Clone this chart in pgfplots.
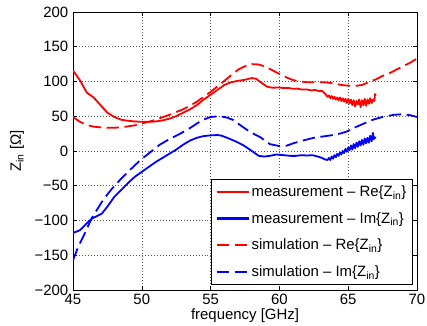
\documentclass[border=0pt]{standalone}
\usepackage{pgfplots}
\pgfplotsset{compat=1.18}
\usepackage{fontspec}
\setmainfont{Liberation Sans}
\begin{document}
\fontsize{15}{18}\selectfont
\begin{tikzpicture}
\begin{axis}[
  scale only axis, width=344bp, height=278bp,
  xmin=45, xmax=70, ymin=-200, ymax=200,
  xtick={45,50,...,70}, ytick={-200,-150,...,200},
  yticklabels={−200,−150,−100,−50,0,50,100,150,200},
  xticklabels={45,50,55,60,65,70},
  tick pos=both, tick align=inside, major tick length=4bp,
  every tick/.style={black, line width=0.6pt},
  axis line style={black, line width=0.8pt},
  grid=major,
  major grid style={black!65, line width=0.6pt, dash pattern=on 0.8pt off 2.2pt},
  xticklabel style={anchor=north, inner sep=0pt, yshift=-4bp},
  yticklabel style={anchor=east, inner sep=0pt, xshift=-4.5bp},
  xlabel={frequency [GHz]},
  ylabel={Z\textsubscript{in} [Ω]},
  xlabel style={at={(axis description cs:0.5,0)}, anchor=center, yshift=-25.5bp},
  ylabel style={at={([xshift=-56bp]axis description cs:0,0.5)}, anchor=center},
  legend style={at={(0.988,0.018)}, anchor=south east, draw=black, line width=0.8pt,
    fill=white, font=\fontsize{15}{18}\selectfont, inner xsep=4bp, inner ysep=4bp,
    row sep=9.5bp, cells={anchor=west}},
  legend image code/.code={\draw[#1, line width=2.2pt, yshift=0.4bp] (0bp,0bp) -- (32bp,0bp);},
  clip=true,
]
\coordinate (ll) at (rel axis cs:0,0);
\coordinate (ur) at (rel axis cs:1,1);
% measurement Re
\addplot[red, line width=1.8pt, line join=round] coordinates {
(45,116) (45.5,102) (46,84) (46.5,77) (47,66) (47.5,55) (48,49) (48.5,45) (49,43.5) (49.5,42.5)
(50,42) (50.5,42) (51,42.5) (51.5,44) (52,46.5) (52.5,50) (53,55) (53.5,60) (54,66) (54.5,74)
(55,81) (55.5,88) (56,95) (56.5,99) (57,101) (57.5,102.5) (58,105) (58.3,104) (58.7,98) (59.1,92.5)
(59.5,91) (60,91.5) (60.3,90.5) (60.6,90.8) (61,89.5) (61.3,89.8) (61.6,88.5) (62,88.6) (62.3,87.2) (62.6,87.8)
(62.9,86) (63.1,86.5) (63.3,83) (63.5,78)
(63.6,80) (63.7,76) (63.8,79) (63.9,75) (64.0,78) (64.1,74) (64.2,77) (64.3,73) (64.4,77) (64.5,72)
(64.6,76) (64.7,71) (64.8,75) (64.9,69) (65.0,75) (65.1,68) (65.2,74) (65.3,66) (65.4,73) (65.5,64)
(65.6,72) (65.7,67) (65.8,74) (65.9,63) (66.0,73) (66.1,66) (66.2,75) (66.3,65) (66.4,74) (66.5,68)
(66.6,76) (66.7,69) (66.8,74) (66.9,72) (66.95,82) (67.0,80)
};
\addlegendentry{measurement -- Re\{Z\textsubscript{in}\}}
% measurement Im
\addplot[blue, line width=1.8pt, line join=round] coordinates {
(45,-118) (45.5,-114) (46,-104) (46.4,-97) (46.8,-93) (47.1,-90) (47.5,-80) (48,-66) (48.5,-56) (49,-46)
(49.5,-37) (50,-30) (50.5,-23) (51,-16) (51.5,-10) (52,-4) (52.5,2) (53,9) (53.5,15) (54,19)
(54.5,21.5) (55,22.5) (55.5,23) (55.8,22) (56.2,19) (56.8,14) (57.4,8) (58,0) (58.5,-7) (58.9,-8)
(59.3,-7) (59.8,-5) (60.3,-6) (60.8,-7) (61.2,-7) (61.6,-6) (62,-6.5) (62.4,-6) (62.8,-8) (63.1,-10)
(63.3,-12) (63.5,-13)
(63.6,-10) (63.7,-13) (63.8,-8) (63.9,-11) (64.0,-6) (64.1,-9) (64.2,-4) (64.3,-7) (64.4,-2) (64.5,-5)
(64.6,0) (64.7,-3) (64.8,3) (64.9,-1) (65.0,5) (65.1,1) (65.2,8) (65.3,2) (65.4,10) (65.5,4)
(65.6,12) (65.7,6) (65.8,14) (65.9,8) (66.0,16) (66.1,9) (66.2,18) (66.3,11) (66.4,19) (66.5,12)
(66.6,22) (66.7,14) (66.8,26) (66.85,17) (66.9,20) (67.0,18)
};
\addlegendentry{measurement -- Im\{Z\textsubscript{in}\}}
% simulation Re
\addplot[red, line width=1.8pt, dash pattern=on 12.5bp off 5.5bp] coordinates {
(45,49) (45.5,42) (46,37.5) (46.5,35) (47,34) (47.5,33.5) (48,33.5) (48.5,34) (49,35.5) (49.5,37)
(50,39.5) (50.5,42) (51,45) (51.5,48.5) (52,52) (52.5,56) (53,60) (53.5,65) (54,71) (54.5,78)
(55,85) (55.5,93) (56,101) (56.5,109) (57,117) (57.5,122) (58,125) (58.5,124.5) (59,121) (59.5,116)
(60,111) (60.5,106) (61,102) (61.5,100) (62,99) (63,99) (63.5,98.5) (64,97) (64.5,95) (65,94)
(65.5,93.5) (66,95) (66.5,99) (67,103) (67.5,108) (68,112) (68.5,117) (69,122) (69.5,127) (70,133)
};
\addlegendentry{simulation -- Re\{Z\textsubscript{in}\}}
% simulation Im
\addplot[blue, line width=1.8pt, dash pattern=on 12.5bp off 5.5bp] coordinates {
(45,-157) (45.4,-137) (45.75,-123) (46.35,-97) (47.2,-70) (47.8,-55) (48.4,-42) (49.1,-28) (49.9,-13) (50.6,-2)
(51.3,9) (52,17) (52.8,25) (53.5,33) (54.2,42) (54.6,46) (55,49) (55.7,50) (56.2,48) (56.65,44.6)
(57.1,38) (57.6,31) (58.1,25) (58.6,20) (59.3,10) (60,7) (60.5,7.5) (61,11) (61.5,14) (62.5,19)
(63.2,21) (63.9,23) (64.4,25) (64.9,28) (65.5,34) (66.2,40) (66.8,45) (67.5,49) (68.3,52) (69,53)
(69.5,51.5) (70,49)
};
\addlegendentry{simulation -- Im\{Z\textsubscript{in}\}}
\end{axis}
\pgfresetboundingbox
\path ([shift={(-73bp,-36bp)}]ll) rectangle ([shift={(10bp,12bp)}]ur);
\end{tikzpicture}
\end{document}
